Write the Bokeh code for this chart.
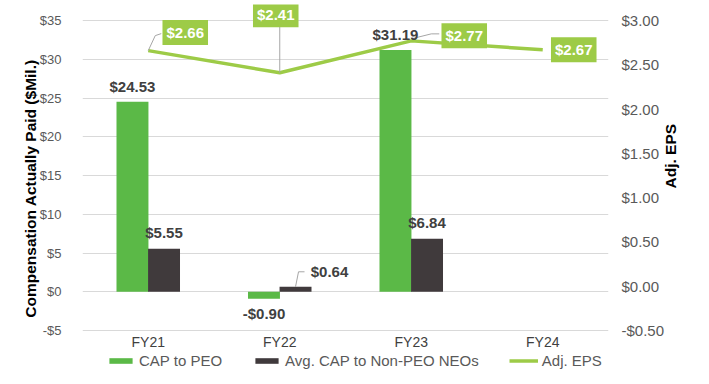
import math
from bokeh.plotting import figure
from bokeh.models import (ColumnDataSource, FactorRange, Range1d, LinearAxis, FixedTicker,
                          CustomJSTickFormatter, Label, Legend, LegendItem)
from bokeh.transform import dodge
from bokeh.embed import file_html
from bokeh.resources import INLINE

# ---- data ----
categories = ["FY21", "FY22", "FY23", "FY24"]
cap_peo = [24.53, -0.90, 31.19, float("nan")]
cap_neo = [5.55, 0.64, 6.84, float("nan")]
adj_eps = [2.66, 2.41, 2.77, 2.67]
left_ticks = [-5, 0, 5, 10, 15, 20, 25, 30, 35]
right_ticks = [-0.5, 0.0, 0.5, 1.0, 1.5, 2.0, 2.5, 3.0]
series_names = ["CAP to PEO", "Avg. CAP to Non-PEO NEOs", "Adj. EPS"]
left_title = "Compensation Actually Paid ($Mil.)"
right_title = "Adj. EPS"

# ---- style ----
GREEN = "#5BB947"
DARK = "#403A3C"
LIME = "#9DCB47"
TICK = "#595959"
LBL = "#404040"
GRID = "#D9D9D9"
FONT = "Liberation Sans"
BAR_W = 0.243
DODGE = 0.12
FRAME_W = 526
GRID_H = 310          # px between lowest and highest tick
TOP_PAD = 16          # extra px of frame above the top tick (room for labels)
BOT_PAD = 42          # extra px of frame below the lowest tick (room for category labels + legend)
FRAME_H = GRID_H + TOP_PAD + BOT_PAD

l_span = left_ticks[-1] - left_ticks[0]
r_span = right_ticks[-1] - right_ticks[0]
l_per_px = l_span / GRID_H
r_per_px = r_span / GRID_H
x_per_px = len(categories) / FRAME_W

src = ColumnDataSource(dict(cat=categories, peo=cap_peo, neo=cap_neo, eps=adj_eps))

p = figure(frame_width=FRAME_W, frame_height=FRAME_H, output_backend="svg", toolbar_location=None,
           x_range=FactorRange(factors=categories, range_padding=0),
           y_range=Range1d(left_ticks[0] - BOT_PAD * l_per_px, left_ticks[-1] + TOP_PAD * l_per_px),
           min_border_left=82, min_border_right=95, min_border_top=4, min_border_bottom=4)
p.extra_y_ranges = {"eps": Range1d(right_ticks[0] - BOT_PAD * r_per_px,
                                   right_ticks[-1] + TOP_PAD * r_per_px)}
p.outline_line_color = None
p.xgrid.grid_line_color = None
p.ygrid.grid_line_color = GRID
p.ygrid.grid_line_width = 1
p.ygrid.ticker = FixedTicker(ticks=left_ticks)

b1 = p.vbar(x=dodge("cat", -DODGE, range=p.x_range), top="peo", width=BAR_W, source=src,
            fill_color=GREEN, line_color=None)
b2 = p.vbar(x=dodge("cat", DODGE, range=p.x_range), top="neo", width=BAR_W, source=src,
            fill_color=DARK, line_color=None)
ln = p.line(x="cat", y="eps", source=src, y_range_name="eps", line_color=LIME, line_width=3.5)

yl = p.yaxis[0]
yl.ticker = FixedTicker(ticks=left_ticks)
yl.formatter = CustomJSTickFormatter(code="return (tick<0?'-':'') + '$' + Math.abs(tick).toFixed(0);")
yr = LinearAxis(y_range_name="eps", ticker=FixedTicker(ticks=right_ticks),
                formatter=CustomJSTickFormatter(code="return (tick<0?'-':'') + '$' + Math.abs(tick).toFixed(2);"))
p.add_layout(yr, "right")
xa = p.xaxis[0]
xa.axis_label = None
yl.axis_label = left_title
yr.axis_label = right_title
for ax in (yl, yr, xa):
    ax.axis_line_color = None
    ax.major_tick_line_color = None
    ax.minor_tick_line_color = None
    ax.major_tick_in = 0
    ax.major_tick_out = 0
    ax.minor_tick_in = 0
    ax.minor_tick_out = 0
    ax.major_label_text_font = FONT
    ax.major_label_text_color = TICK
    ax.axis_label_text_font = FONT
    ax.axis_label_text_font_size = "15.5px"
    ax.axis_label_text_font_style = "bold"
    ax.axis_label_text_color = "#000000"
yl.major_label_text_font_size = "13px"
yr.major_label_text_font_size = "15px"
xa.major_label_text_font_size = "14px"
xa.major_label_text_color = LBL
yl.major_label_standoff = 21
yl.axis_label_standoff = -2
yr.major_label_standoff = 13
yr.axis_label_standoff = 3
# category labels sit just under the lowest gridline, inside the padded frame
xa.major_label_standoff = 3 - BOT_PAD
try:
    yr.axis_label_orientation = math.pi / 2
except Exception:
    pass

peo_off = [(0, 15), (0, -15), (0, 16)]
neo_off = [(0, 16), (34, 15), (0, 16)]
def money(v):
    return ("-" if v < 0 else "") + "$" + f"{abs(v):.2f}"
for vals, dx0, offs in ((cap_peo, -DODGE, peo_off), (cap_neo, DODGE, neo_off)):
    for i, v in enumerate(vals):
        if math.isnan(v):
            continue
        ox, oy = offs[i]
        p.add_layout(Label(x=i + 0.5 + dx0, y=v, x_offset=ox, y_offset=oy, text=money(v),
                           text_font=FONT, text_font_size="15px", text_font_style="bold",
                           text_color=LBL, text_align="center", text_baseline="middle"))

i = 1
v = cap_neo[i]
xb = i + 0.5 + DODGE
lead_pts = [(0, 0), (3, 15), (9, 15)]
p.line(x=[xb + dx * x_per_px for dx, dy in lead_pts],
       y=[v + dy * l_per_px for dx, dy in lead_pts],
       line_color="#A6A6A6", line_width=1)

eps_off = [(37, 18), (-4, 58), (53, 5), (31, 0)]
eps_leads = [[(0, 0), (7, 15), (13, 17)], [(0, 0), (0, 47)], [(0, 2), (20, 7), (28, 7)], None]
for i, v in enumerate(adj_eps):
    L = eps_leads[i]
    if L:
        p.line(x=[i + 0.5 + dx * x_per_px for dx, dy in L],
               y=[v + dy * r_per_px for dx, dy in L],
               y_range_name="eps", line_color="#A6A6A6", line_width=1)
for i, v in enumerate(adj_eps):
    ox, oy = eps_off[i]
    p.add_layout(Label(x=i + 0.5, y=v, y_range_name="eps", x_offset=ox, y_offset=oy, text=money(v),
                       text_font=FONT, text_font_size="15px", text_font_style="bold",
                       text_color="white", text_align="center", text_baseline="middle",
                       background_fill_color=LIME, background_fill_alpha=1.0, padding=4))

legend = Legend(items=[LegendItem(label=series_names[0], renderers=[b1]),
                       LegendItem(label=series_names[1], renderers=[b2]),
                       LegendItem(label=series_names[2], renderers=[ln])],
                orientation="horizontal", location=(24, 3),
                label_text_font=FONT, label_text_font_size="15px", label_text_color=TICK,
                glyph_width=29, glyph_height=7, label_standoff=4, spacing=30,
                padding=0, margin=0, border_line_color=None, background_fill_alpha=0,
                label_height=17)
p.add_layout(legend, "center")

open("out.html", "w").write(file_html(p, INLINE))
